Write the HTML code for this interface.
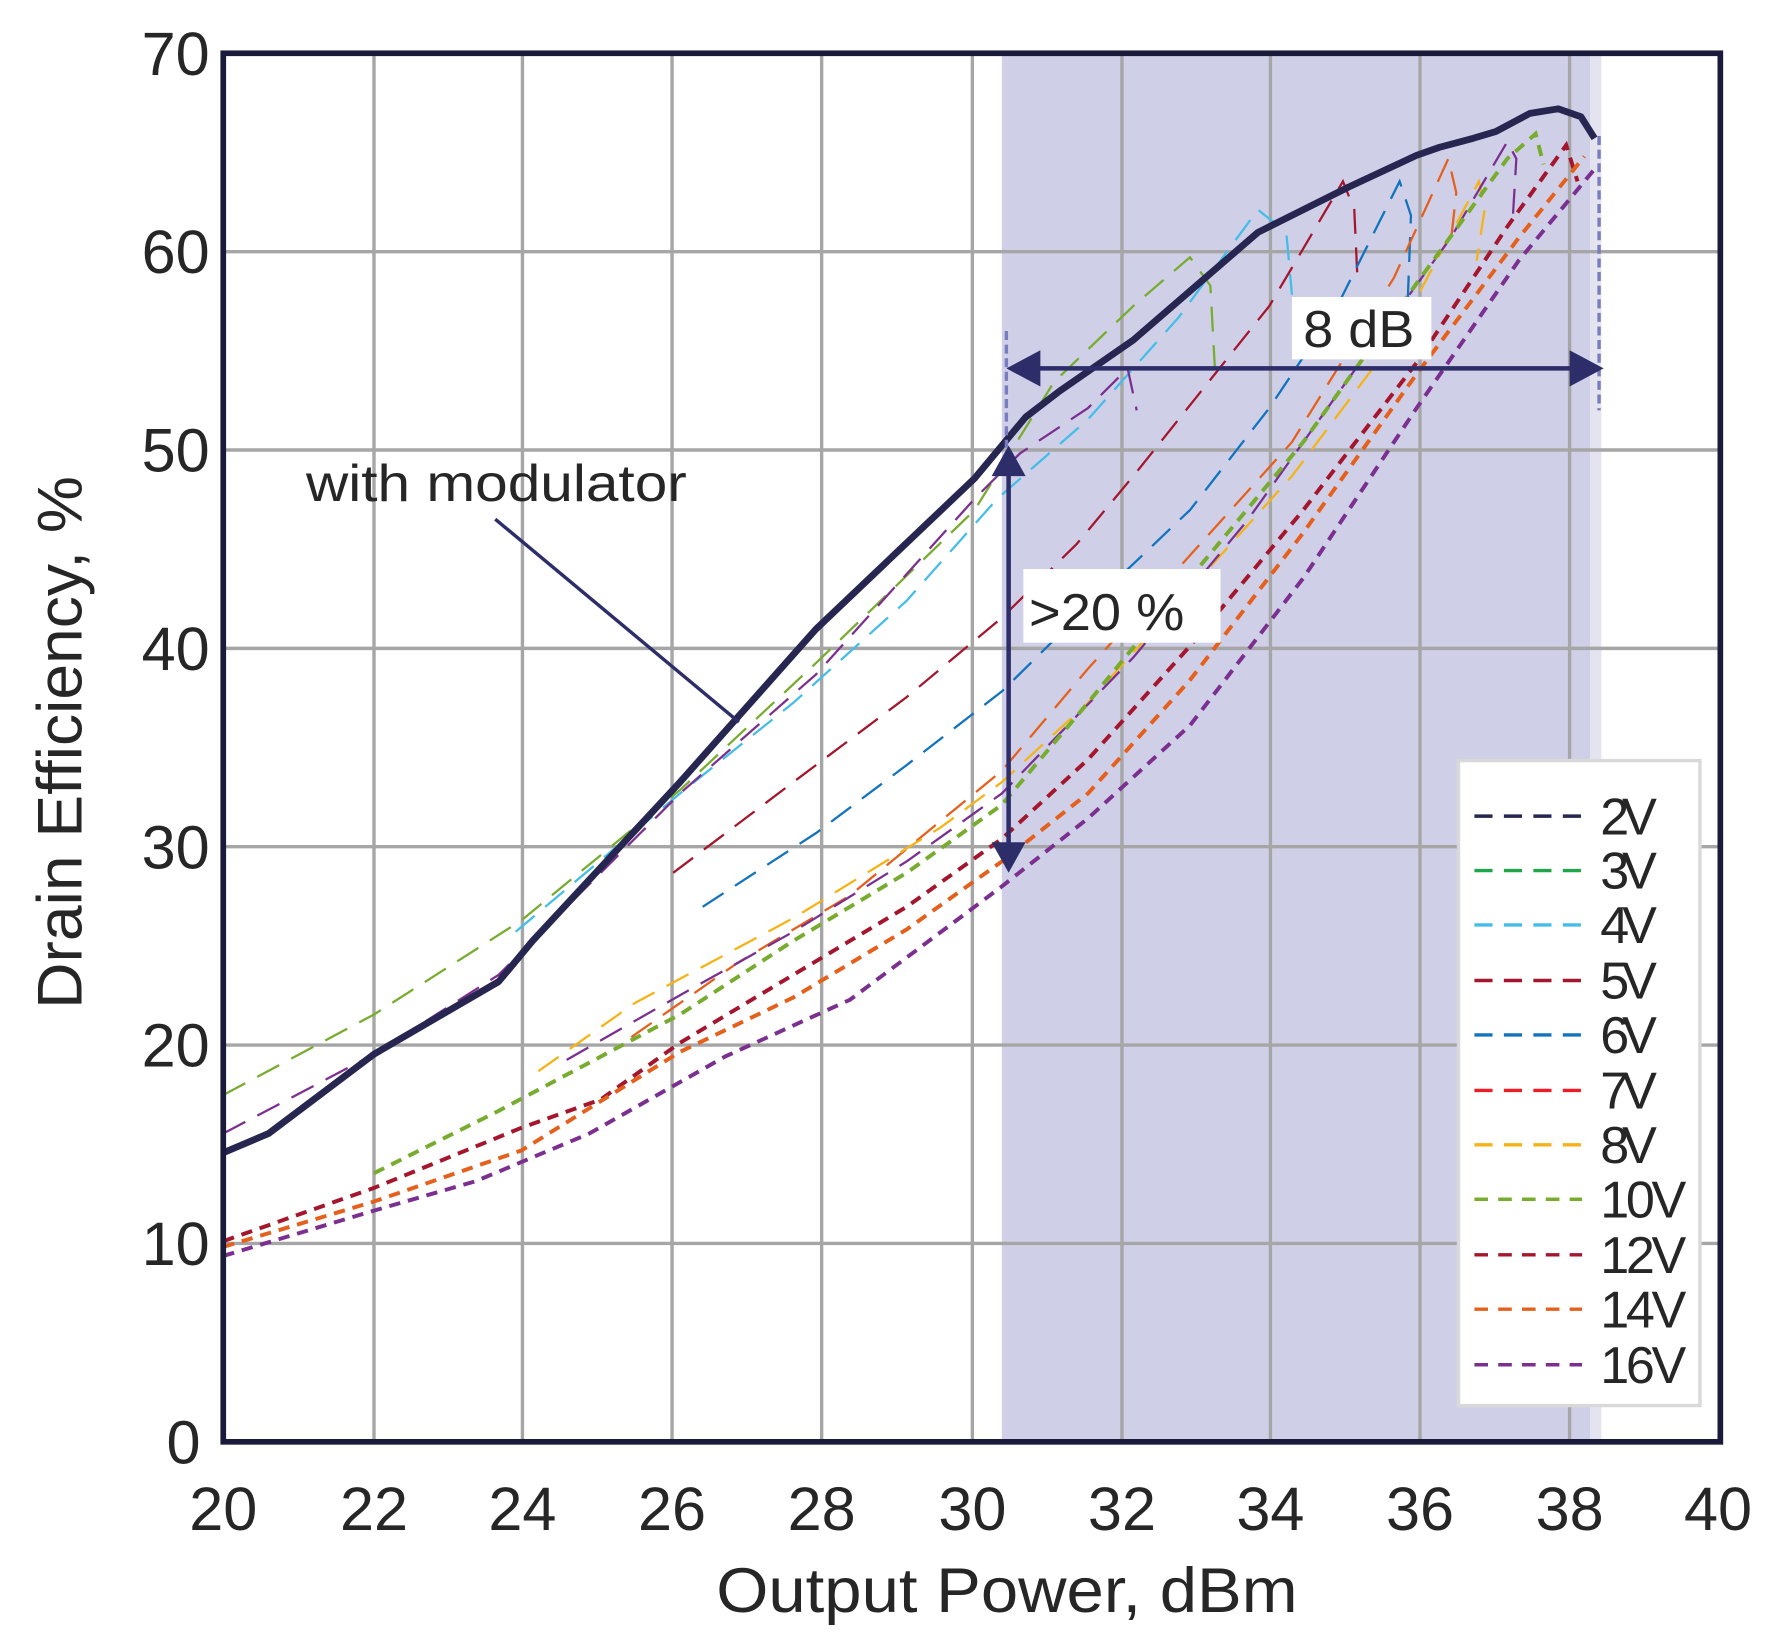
<!DOCTYPE html>
<html><head><meta charset="utf-8"><style>
html,body{margin:0;padding:0;background:#fff;}
svg{display:block;}
text{font-family:"Liberation Sans",sans-serif;fill:#262626;}
</style></head><body>
<svg width="1777" height="1647" viewBox="0 0 1568 1453" preserveAspectRatio="none" xmlns="http://www.w3.org/2000/svg">
<rect x="0" y="0" width="1568" height="1453" fill="#fff"/>
<rect x="884" y="47" width="519" height="1225" fill="#cfd0e8"/>
<rect x="1403" y="47" width="10" height="1225" fill="#e4e4f0"/>
<g stroke="#a6a6a6" stroke-width="3">
<line x1="330" y1="47" x2="330" y2="1272"/><line x1="461" y1="47" x2="461" y2="1272"/>
<line x1="593" y1="47" x2="593" y2="1272"/><line x1="725" y1="47" x2="725" y2="1272"/>
<line x1="858" y1="47" x2="858" y2="1272"/><line x1="990" y1="47" x2="990" y2="1272"/>
<line x1="1121" y1="47" x2="1121" y2="1272"/><line x1="1253" y1="47" x2="1253" y2="1272"/>
<line x1="1385" y1="47" x2="1385" y2="1272"/>
<line x1="197" y1="222" x2="1518" y2="222"/><line x1="197" y1="397" x2="1518" y2="397"/>
<line x1="197" y1="572" x2="1518" y2="572"/><line x1="197" y1="747" x2="1518" y2="747"/>
<line x1="197" y1="922" x2="1518" y2="922"/><line x1="197" y1="1097" x2="1518" y2="1097"/>
</g>
<g fill="none" stroke-width="2" stroke-dasharray="22,12">
<polyline stroke="#77ac2f" points="197,966 330,895 460,812 600,697 720,585 860,450 930,337 1000,270 1050,227 1068,252 1072,325"/>
<polyline stroke="#44bde8" points="455,822 600,700 700,620 800,530 880,440 960,370 1040,280 1110,185 1135,205 1140,260"/>
<polyline stroke="#7b2f8f" points="197,1000 330,930 440,860 600,700 720,595 860,440 900,400 960,360 995,325 1003,362"/>
<polyline stroke="#a3162d" points="594,770 700,690 800,615 884,545 950,480 1000,420 1060,345 1120,270 1185,160 1195,185 1198,250"/>
<polyline stroke="#1173bd" points="620,800 720,735 800,675 884,610 950,545 1050,450 1120,360 1180,270 1235,160 1245,190 1242,270"/>
<polyline stroke="#e4601c" points="557,915 650,850 750,790 884,680 960,590 1050,490 1140,390 1230,245 1278,140 1285,170 1280,215"/>
<polyline stroke="#f5b315" points="475,945 560,885 700,810 830,730 884,690 960,620 1050,520 1140,420 1230,300 1305,160 1310,185 1303,230"/>
<polyline stroke="#7b2f8f" points="500,935 600,878 700,822 800,760 884,700 1000,580 1100,460 1200,320 1280,210 1330,125 1338,140 1335,190"/>
</g>
<g fill="none" stroke-width="3.5" stroke-dasharray="10,7">
<polyline stroke="#77ac2f" points="330,1035 440,980 600,895 700,830 800,770 884,710 960,620 1050,510 1150,390 1250,250 1330,140 1355,118 1362,145"/>
<polyline stroke="#a3162d" points="197,1095 330,1048 460,995 530,970 600,920 700,860 800,800 884,740 960,670 1050,570 1150,450 1250,320 1330,200 1382,128 1392,160"/>
<polyline stroke="#e4601c" points="197,1100 330,1060 460,1015 600,928 700,880 800,820 884,760 960,700 1050,600 1150,470 1250,330 1340,210 1398,138"/>
<polyline stroke="#7b2f8f" points="197,1108 330,1068 420,1042 520,1000 640,932 750,882 860,800 884,782 960,722 1050,640 1150,510 1250,360 1340,230 1408,148"/>
</g>
<polyline fill="none" stroke="#262650" stroke-width="6" stroke-linejoin="round" points="197,1017 237,1000 330,930 440,866 470,830 600,690 720,555 860,422 905,368 935,345 1000,300 1110,205 1150,185 1190,165 1250,137 1270,130 1300,122 1320,116 1350,100 1375,96 1395,103 1407,122"/>
<rect x="197" y="47" width="1321" height="1225" fill="none" stroke="#1a1a3a" stroke-width="5"/>
<line x1="888" y1="292" x2="888" y2="395" stroke="#7b7bc0" stroke-width="3" stroke-dasharray="8,4"/>
<line x1="1411" y1="120" x2="1411" y2="362" stroke="#7b7bc0" stroke-width="3" stroke-dasharray="8,4"/>
<g fill="#2d2d6a" stroke="#2d2d6a">
<line x1="905" y1="325" x2="1398" y2="325" stroke-width="4"/>
<polygon points="888,325 918,309 918,341" stroke="none"/>
<polygon points="1415,325 1385,309 1385,341" stroke="none"/>
<line x1="890" y1="415" x2="890" y2="750" stroke-width="4"/>
<polygon points="890,393 875,420 905,420" stroke="none"/>
<polygon points="890,770 875,743 905,743" stroke="none"/>
</g>
<rect x="903" y="502" width="174" height="65" fill="#fff"/>
<text x="908" y="556" font-size="46" fill="#111" textLength="137" lengthAdjust="spacingAndGlyphs">&gt;20 %</text>
<rect x="1140" y="262" width="123" height="55" fill="#fff"/>
<text x="1150" y="306" font-size="46" fill="#111" textLength="98" lengthAdjust="spacingAndGlyphs">8 dB</text>
<text x="270" y="442" font-size="46" fill="#111" textLength="336" lengthAdjust="spacingAndGlyphs">with modulator</text>
<line x1="437" y1="458" x2="652" y2="637" stroke="#2d2d6a" stroke-width="3"/>
<rect x="1287" y="671" width="213" height="569" fill="#fff" stroke="#d9d9d9" stroke-width="3"/>
<g fill="none" stroke-width="3">
<line x1="1301" y1="720" x2="1396" y2="720" stroke="#262650" stroke-dasharray="16,10"/>
<line x1="1301" y1="768" x2="1396" y2="768" stroke="#1fa64a" stroke-dasharray="16,10"/>
<line x1="1301" y1="816" x2="1396" y2="816" stroke="#44bde8" stroke-dasharray="16,10"/>
<line x1="1301" y1="865" x2="1396" y2="865" stroke="#a3162d" stroke-dasharray="16,10"/>
<line x1="1301" y1="913" x2="1396" y2="913" stroke="#1173bd" stroke-dasharray="16,10"/>
<line x1="1301" y1="962" x2="1396" y2="962" stroke="#ee1c24" stroke-dasharray="16,10"/>
<line x1="1301" y1="1010" x2="1396" y2="1010" stroke="#f5b315" stroke-dasharray="16,10"/>
<line x1="1301" y1="1058" x2="1396" y2="1058" stroke="#77ac2f" stroke-dasharray="12,9"/>
<line x1="1301" y1="1107" x2="1396" y2="1107" stroke="#a3162d" stroke-dasharray="12,9"/>
<line x1="1301" y1="1155" x2="1396" y2="1155" stroke="#e4601c" stroke-dasharray="12,9"/>
<line x1="1301" y1="1204" x2="1396" y2="1204" stroke="#7b2f8f" stroke-dasharray="12,9"/>
</g>
<g font-size="46" fill="#111" lengthAdjust="spacingAndGlyphs">
<text x="1412" y="736" textLength="50">2V</text><text x="1412" y="784" textLength="50">3V</text><text x="1412" y="832" textLength="50">4V</text>
<text x="1412" y="881" textLength="50">5V</text><text x="1412" y="929" textLength="50">6V</text><text x="1412" y="978" textLength="50">7V</text>
<text x="1412" y="1026" textLength="50">8V</text><text x="1412" y="1074" textLength="76">10V</text><text x="1412" y="1123" textLength="76">12V</text>
<text x="1412" y="1171" textLength="76">14V</text><text x="1412" y="1220" textLength="76">16V</text>
</g>
<g font-size="54" text-anchor="end">
<text x="185" y="66">70</text><text x="185" y="241">60</text><text x="185" y="416">50</text>
<text x="185" y="591">40</text><text x="185" y="766">30</text><text x="185" y="941">20</text>
<text x="185" y="1116">10</text><text x="177" y="1291">0</text>
</g>
<g font-size="54" text-anchor="middle">
<text x="197" y="1350">20</text><text x="330" y="1350">22</text><text x="461" y="1350">24</text>
<text x="593" y="1350">26</text><text x="725" y="1350">28</text><text x="858" y="1350">30</text>
<text x="990" y="1350">32</text><text x="1121" y="1350">34</text><text x="1253" y="1350">36</text>
<text x="1385" y="1350">38</text><text x="1516" y="1350">40</text>
</g>
<text x="632" y="1422" font-size="56" textLength="513" lengthAdjust="spacingAndGlyphs">Output Power, dBm</text>
<text transform="translate(72,890) rotate(-90)" font-size="56" textLength="470" lengthAdjust="spacingAndGlyphs">Drain Efficiency, %</text>
</svg>
</body></html>
